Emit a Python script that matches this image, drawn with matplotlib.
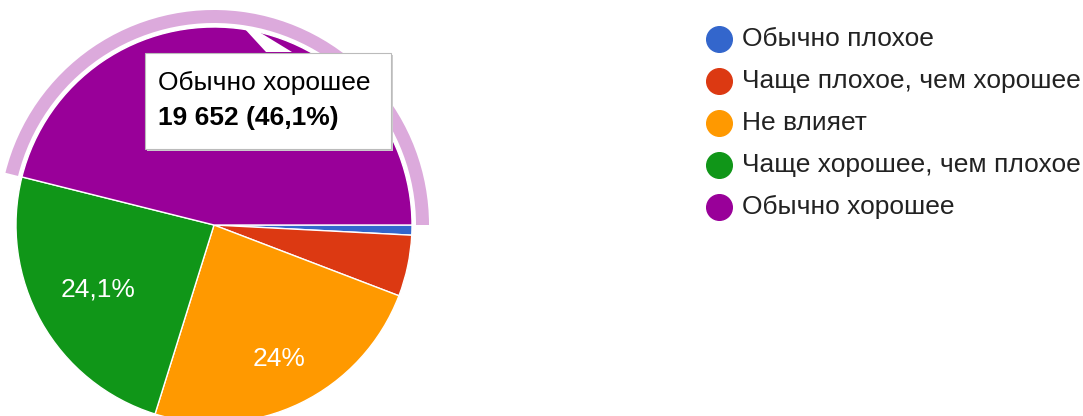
import numpy as np
import matplotlib.pyplot as plt
from matplotlib.patches import Wedge, Rectangle, Polygon

plt.rcParams['font.family'] = ['Liberation Sans', 'DejaVu Sans']

# data
labels = ['Обычно плохое', 'Чаще плохое, чем хорошее', 'Не влияет',
          'Чаще хорошее, чем плохое', 'Обычно хорошее']
values = [350, 2130, 10230, 10270, 19652]
colors = ['#3366cc', '#dc3912', '#ff9900', '#109618', '#990099']
hovered = 4  # slice with the tooltip

W, H = 1083, 416
fig = plt.figure(figsize=(W / 100, H / 100), dpi=100)
ax = fig.add_axes([0, 0, 1, 1])

cx, cy, R = 214, H - 225, 198
total = sum(values)


def fmt_pct(p):
    s = f"{p:.1f}"
    if s.endswith('.0'):
        s = s[:-2]
    return s.replace('.', ',') + '%'


wedges, texts = ax.pie(
    values, colors=colors, startangle=0, counterclock=False,
    center=(cx, cy), radius=R,
    wedgeprops=dict(edgecolor='white', linewidth=1))

# slice labels (small slices and the one under the tooltip have none)
label_dist = [0.7, 0.7, 0.75, 0.67, 0.7]
for i, w in enumerate(wedges):
    p = values[i] / total * 100
    if p < 10 or i == hovered:
        continue
    a = np.deg2rad((w.theta1 + w.theta2) / 2)
    ax.text(cx + label_dist[i] * R * np.cos(a), cy + label_dist[i] * R * np.sin(a),
            fmt_pct(p), color='white', fontsize=19, ha='center', va='center')

# highlight ring around the hovered slice
w = wedges[hovered]
ax.add_patch(Wedge((cx, cy), R + 17, w.theta1, w.theta2, width=13,
                   facecolor='#dcaadc', edgecolor='none', zorder=0.5))

# tooltip
bx0, by0, bx1, by1 = 145, H - 149, 391, H - 53
ax.add_patch(Rectangle((bx0 + 2, by0 - 2), bx1 - bx0, by1 - by0,
                       facecolor='#cccccc', edgecolor='none', zorder=5))
ax.add_patch(Rectangle((bx0, by0), bx1 - bx0, by1 - by0,
                       facecolor='white', edgecolor='#bbbbbb', linewidth=0.8, zorder=6))
ax.add_patch(Polygon([(243, H - 27), (251, H - 27), (292, by1 + 1), (266, by1 + 1)],
                     closed=True, facecolor='white', edgecolor='none', zorder=6))
ax.text(158, H - 83, labels[hovered], fontsize=19, va='center', ha='left', zorder=7)
pct = values[hovered] / total * 100
ax.text(158, H - 118, f"{values[hovered]:,}".replace(',', ' ') + f" ({fmt_pct(pct)})",
        fontsize=19, fontweight='bold', va='center', ha='left', zorder=7)

# legend
for i, (lab, col) in enumerate(zip(labels, colors)):
    y = H - (39 + i * 42)
    ax.scatter([719], [y], s=340, color=col, zorder=3)
    ax.text(742, y, lab, fontsize=19, va='center', ha='left', color='#222222')

ax.set_xlim(0, W)
ax.set_ylim(0, H)
ax.set_aspect('equal')
ax.axis('off')

fig.savefig('out.png', dpi=100)
